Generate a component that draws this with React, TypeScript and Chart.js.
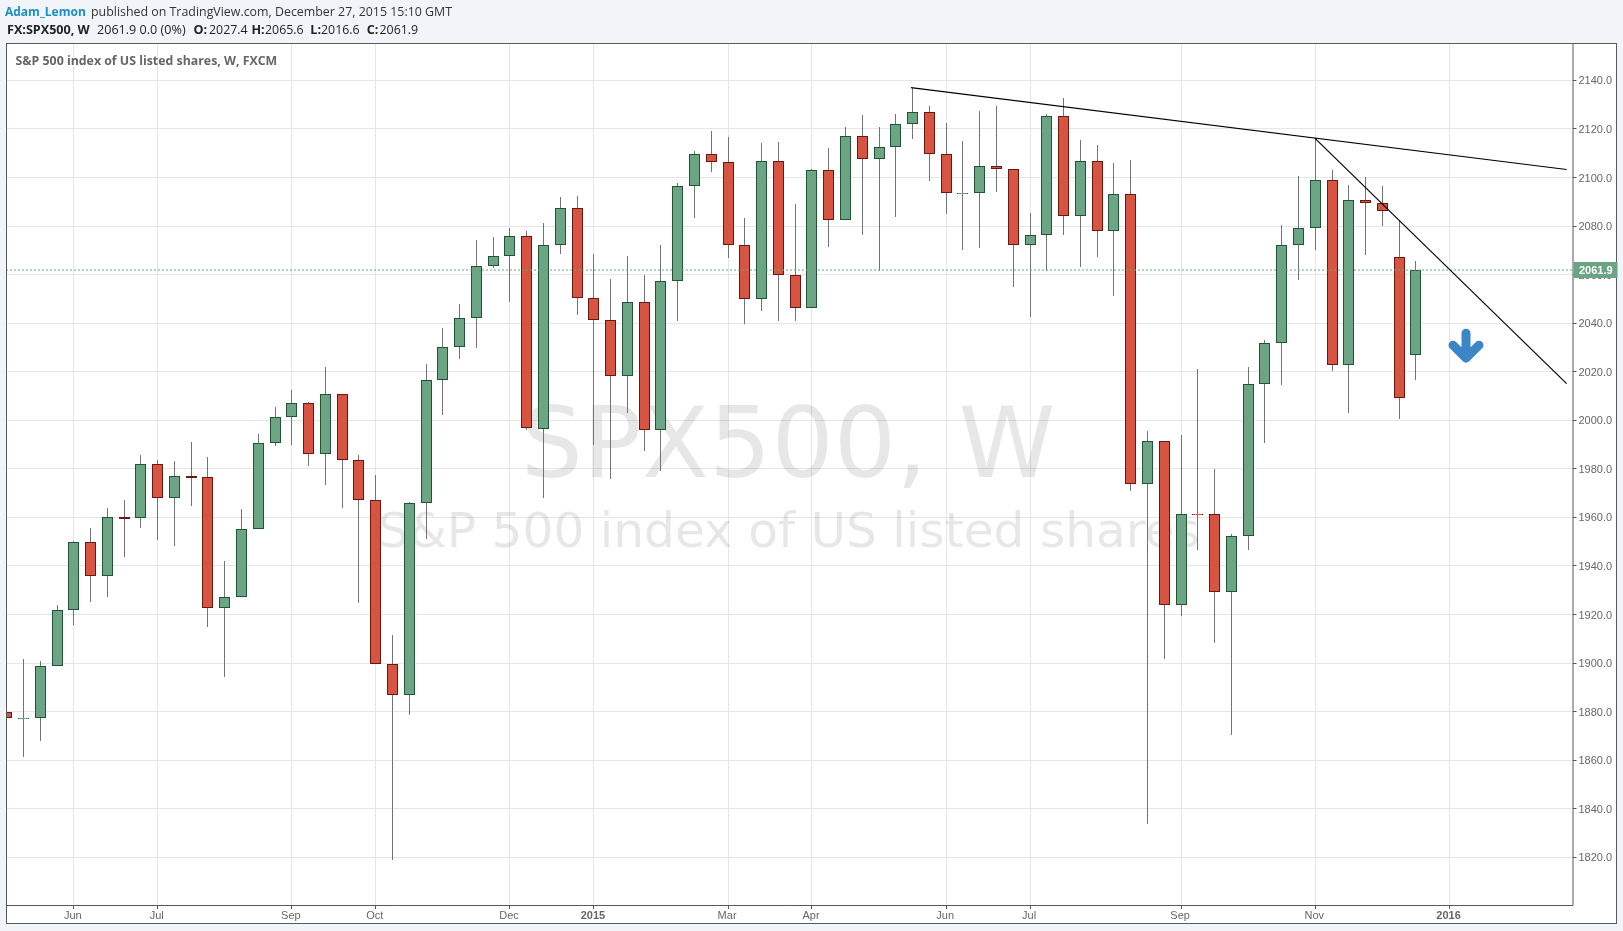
import React, { useEffect, useRef } from "react";
import { Chart, registerables } from "chart.js";

Chart.register(...registerables);

const opens = [1880,1877.3,1877.2,1898.6,1921.7,1949.7,1936,1960.2,1959.6,1981.9,1967.9,1977,1976.5,1922.5,1927.1,1955.1,1990.5,2001.2,2007,1986,2010.7,1983.5,1967,1899.6,1886.8,1965.8,2016.5,2030,2042.3,2063.7,2067.8,2076,1996.4,2072,2087.6,2050.5,2041.5,2018.4,2048.9,1996.2,2057.5,2096.7,2109.5,2106.2,2072,2050.1,2106.6,2060,2046.4,2102.9,2082.3,2117.3,2107.8,2112.7,2122.2,2126.8,2109.5,2093.8,2093.8,2104.9,2103.3,2072,2076.5,2125.5,2084.3,2107,2078.1,2093.4,1973.9,1991.6,1924,1961.5,1961.5,1929.3,1952.3,2015.1,2032,2072,2079.4,2099.1,2022.9,2090.9,2089.7,2067.4,2026.7];
const highs = [1880,1901.8,1901,1923.9,1950.3,1955.5,1963.9,1967.2,1985.7,1983.7,1983.2,1991.1,1984.9,1942,1963.5,1994.4,2005.5,2012.5,2007.5,2022,2010.7,1985.7,1977.5,1911.5,1966.2,2023.2,2038,2047.8,2074.1,2075.4,2079,2077.9,2081.4,2091.9,2092.3,2068.4,2058,2067.6,2060,2072,2097.6,2110.8,2119,2116.6,2083.5,2114.1,2114.5,2089,2103.4,2112,2120.7,2125.7,2120.7,2126,2137,2129.4,2122.4,2115,2127.3,2129.4,2103.3,2085.5,2126,2132.7,2115.4,2113.3,2105.9,2107.1,1995.5,1991.6,1993.8,2021,1979.8,1953,2021.8,2032.9,2080.3,2100.5,2116.2,2103,2096.8,2100.1,2096.4,2082,2065.6];
const lows = [1877.2,1861.5,1867.7,1898.6,1915.8,1925.3,1927.3,1943.8,1955.8,1950.8,1948.4,1964.8,1915,1894.1,1927.1,1955.1,1989.6,1990,1981.3,1973.5,1964,1924.9,1899.6,1818.7,1878.8,1951.2,2002,2025.4,2029.9,2062.7,2048.7,1996,1968,2068.5,2043.4,1989.8,1975.8,2003,1987.4,1979.1,2040.9,2083.4,2102.3,2066.9,2039.7,2045,2040.9,2040.9,2046.4,2071.4,2082.3,2076.3,2061.6,2083.8,2115.9,2098.6,2085,2070.2,2071,2094,2054.9,2042.6,2061.6,2076.3,2063.2,2067.3,2051.2,1970.9,1833.7,1901.6,1919.4,1946.6,1908.2,1870.4,1946.6,1990.7,2014.5,2057.8,2070,2020.3,2003,2068,2079.9,2000.4,2016.6];
const closes = [1877.2,1877.3,1898.8,1921.7,1949.7,1936,1960,1959.4,1981.9,1967.9,1976.9,1976.2,1922.5,1927.1,1955.1,1990.5,2001.2,2007,1986,2010.7,1983.5,1967,1899.6,1886.8,1965.8,2016.5,2030,2042.3,2063.7,2067.8,2076,1996.7,2072,2087.6,2050.5,2041.5,2018.4,2048.9,1996.2,2057.5,2096.7,2109.5,2106.2,2072,2050.1,2106.6,2060,2046.4,2102.9,2082.3,2117.3,2107.8,2112.7,2122.2,2126.8,2109.5,2093.8,2093.8,2104.9,2103.3,2072,2076.5,2125.5,2084.3,2107,2078.1,2093.4,1973.9,1991.6,1924,1961.5,1961.5,1929.3,1952.5,2015.1,2032,2072,2079.4,2099.1,2022.9,2090.9,2089.5,2086.2,2009.2,2061.9];
const flatDownIndexes = [71];

const priceTicks = [1820,1840,1860,1880,1900,1920,1940,1960,1980,2000,2020,2040,2060,2080,2100,2120,2140];
const timeTickIndexes = [4,9,17,22,30,35,43,48,56,61,70,78,86];
const timeTickLabels = ["Jun","Jul","Sep","Oct","Dec","2015","Mar","Apr","Jun","Jul","Sep","Nov","2016"];
const boldTimeLabels = ["2015","2016"];

const lastPrice = 2061.9;
const resistanceLine = [{ x: 53.9, y: 2137 }, { x: 92.98, y: 2103.3 }];
const fallLine = [{ x: 77.97, y: 2116.2 }, { x: 92.98, y: 2015.1 }];
const arrowAt = { x: 87, top: 2035.9, tip: 2025.6 };

const xMin = -0.04;
const xMax = 93.33;
const yMin = 1800.35;
const yMax = 2155.4;

const UP = "#6ba583";
const UP_EDGE = "#225437";
const DOWN = "#d75442";
const DOWN_EDGE = "#6b1813";
const WICK = "#737375";

const crispPlugin = {
  id: "crisp",
  afterDatasetsUpdate(chart: any) {
    chart.data.datasets.forEach((ds: any, idx: number) => {
      if (ds.type === "line") return;
      chart.getDatasetMeta(idx).data.forEach((el: any) => {
        el.x = Math.floor(el.x) + 0.5;
        el.y = Math.round(el.y);
        el.base = Math.round(el.base);
        if (el.base - el.y < 1) el.base = el.y + 1;
      });
    });
  },
};

const backdropPlugin = {
  id: "backdrop",
  beforeDraw(chart: any) {
    const { ctx } = chart;
    ctx.save();
    ctx.fillStyle = "#f1f5f9";
    ctx.fillRect(0, 0, chart.width, chart.height);
    ctx.fillStyle = "#ffffff";
    ctx.fillRect(6, 43, 1611, 881);
    ctx.restore();
  },
  beforeDatasetsDraw(chart: any) {
    const { ctx } = chart;
    ctx.save();
    ctx.fillStyle = "rgba(0,0,0,0.095)";
    ctx.textAlign = "center";
    ctx.textBaseline = "alphabetic";
    ctx.font = "98px 'DejaVu Sans'";
    ctx.fillText("SPX500, W", 788, 477);
    ctx.font = "48.6px 'DejaVu Sans'";
    ctx.fillText("S&P 500 index of US listed shares", 789, 547);
    ctx.restore();
  },
  afterDatasetsDraw(chart: any) {
    const { ctx, scales } = chart;
    const cx = Math.round(scales.x.getPixelForValue(arrowAt.x));
    const top = scales.y.getPixelForValue(arrowAt.top);
    const tip = scales.y.getPixelForValue(arrowAt.tip);
    ctx.save();
    ctx.strokeStyle = "#3d85c6";
    ctx.lineWidth = 9;
    ctx.lineCap = "round";
    ctx.lineJoin = "round";
    ctx.beginPath();
    ctx.moveTo(cx, top);
    ctx.lineTo(cx, tip);
    ctx.moveTo(cx - 13, tip - 13);
    ctx.lineTo(cx, tip);
    ctx.lineTo(cx + 13, tip - 13);
    ctx.stroke();
    ctx.restore();
  },
  afterDraw(chart: any) {
    const { ctx, scales, chartArea: a } = chart;
    ctx.save();
    ctx.strokeStyle = "#555a5e";
    ctx.lineWidth = 1;
    ctx.strokeRect(6.5, 43.5, 1610, 880);
    ctx.beginPath();
    ctx.moveTo(a.right + 0.5, 43);
    ctx.lineTo(a.right + 0.5, 905.5);
    ctx.moveTo(6, 905.5);
    ctx.lineTo(a.right + 0.5, 905.5);
    ctx.stroke();

    const py = Math.round(scales.y.getPixelForValue(lastPrice));
    ctx.fillStyle = UP;
    ctx.fillRect(a.right + 1, py - 8, 44, 16);
    ctx.fillStyle = "#ffffff";
    ctx.font = "bold 11px 'Liberation Sans'";
    ctx.textBaseline = "middle";
    ctx.textAlign = "left";
    ctx.fillText(lastPrice.toFixed(1), 1579, py + 1);

    ctx.textBaseline = "alphabetic";
    const run = (t: string, x: number, y: number, font: string, col: string) => {
      ctx.font = font;
      ctx.fillStyle = col;
      ctx.fillText(t, x, y);
    };
    const reg = "12.4px 'Open Sans'";
    const bold = "bold 12.6px 'Open Sans'";
    run("Adam_Lemon", 5, 16, "bold 12px 'Open Sans'", "#1a8fc4");
    run("published on TradingView.com, December 27, 2015 15:10 GMT", 91, 16, reg, "#333333");
    run("FX:SPX500, W", 7, 34, bold, "#222222");
    run("2061.9 0.0 (0%)", 97, 34, "12.6px 'Open Sans'", "#222222");
    run("O:", 193.5, 34, bold, "#222222");
    run("2027.4", 209, 34, reg, "#222222");
    run("H:", 251.4, 34, bold, "#222222");
    run("2065.6", 265, 34, reg, "#222222");
    run("L:", 310.3, 34, bold, "#222222");
    run("2016.6", 321, 34, reg, "#222222");
    run("C:", 366.8, 34, bold, "#222222");
    run("2061.9", 379.5, 34, reg, "#222222");
    run("S&P 500 index of US listed shares, W, FXCM", 15.5, 65, "bold 12.35px 'Open Sans'", "#666666");
    ctx.restore();
  },
};

export default function App() {
  const ref = useRef<HTMLCanvasElement>(null);
  useEffect(() => {
    document.body.style.margin = "0";
    const idx = opens.map((_, i) => i);
    const isFlat = (i: number) => opens[i] === closes[i];
    const isUp = (i: number) => closes[i] > opens[i] || (isFlat(i) && !flatDownIndexes.includes(i));
    const bodies = idx.filter((i) => !isFlat(i));
    const flats = idx.filter(isFlat);
    const chart = new Chart(ref.current as HTMLCanvasElement, {
      type: "bar",
      data: {
        datasets: [
          {
            type: "line",
            label: "Resistance",
            data: resistanceLine,
            borderColor: "#000000",
            borderWidth: 1.2,
            pointRadius: 0,
            order: 0,
          },
          {
            type: "line",
            label: "Fall",
            data: fallLine,
            borderColor: "#000000",
            borderWidth: 1.2,
            pointRadius: 0,
            order: 0,
          },
          {
            type: "line",
            label: "Last price",
            data: [{ x: xMin, y: lastPrice }, { x: xMax, y: lastPrice }],
            borderColor: UP,
            borderWidth: 1,
            borderDash: [2, 2],
            pointRadius: 0,
            order: 1,
          },
          {
            label: "Flat bodies",
            data: flats.map((i) => ({ x: i, y: [opens[i], closes[i]] })),
            backgroundColor: flats.map((i) => (isUp(i) ? UP : DOWN)),
            barThickness: 9,
            borderWidth: 0,
            inflateAmount: 0,
            grouped: false,
            order: 2,
          },
          {
            label: "Flat ends",
            data: flats.map((i) => ({ x: i, y: [opens[i], closes[i]] })),
            backgroundColor: flats.map((i) => (isUp(i) ? UP_EDGE : DOWN_EDGE)),
            barThickness: 11,
            borderWidth: 0,
            inflateAmount: 0,
            grouped: false,
            order: 3,
          },
          {
            label: "Bodies",
            data: bodies.map((i) => ({ x: i, y: [opens[i], closes[i]] })),
            backgroundColor: bodies.map((i) => (isUp(i) ? UP : DOWN)),
            borderColor: bodies.map((i) => (isUp(i) ? UP_EDGE : DOWN_EDGE)),
            borderWidth: 1,
            borderSkipped: false,
            inflateAmount: 0,
            barThickness: 11,
            grouped: false,
            order: 4,
          },
          {
            label: "Wicks",
            data: idx.map((i) => ({ x: i, y: [lows[i], highs[i]] })),
            backgroundColor: WICK,
            borderWidth: 0,
            inflateAmount: 0,
            barThickness: 1,
            grouped: false,
            order: 5,
          },
        ],
      } as any,
      options: {
        responsive: false,
        animation: false,
        layout: { padding: { left: 6, top: 43, right: 6, bottom: 7 } },
        plugins: { legend: { display: false }, title: { display: false }, tooltip: { enabled: false } },
        scales: {
          x: {
            type: "linear",
            min: xMin,
            max: xMax,
            offset: false,
            afterBuildTicks: (axis: any) => {
              axis.ticks = timeTickIndexes.map((value) => ({ value }));
            },
            afterFit: (s: any) => {
              s.height = 19;
            },
            grid: { offset: false, color: "#e6e6e6", lineWidth: 1, tickLength: 4, tickColor: "#555a5e" },
            border: { display: false },
            ticks: {
              autoSkip: false,
              maxRotation: 0,
              padding: 0,
              labelOffset: -1,
              color: "#666666",
              callback: (v: any) => timeTickLabels[timeTickIndexes.indexOf(v)],
              font: (c: any) => {
                const label = timeTickLabels[timeTickIndexes.indexOf(c.tick?.value)];
                return {
                  family: "'Liberation Sans'",
                  size: 11,
                  weight: boldTimeLabels.includes(label) ? "bold" : "normal",
                };
              },
            },
          },
          y: {
            type: "linear",
            position: "right",
            min: yMin,
            max: yMax,
            afterBuildTicks: (axis: any) => {
              axis.ticks = priceTicks.map((value) => ({ value }));
            },
            afterFit: (s: any) => {
              s.width = 44.5;
            },
            grid: { color: "#e6e6e6", lineWidth: 1, tickLength: 4, tickColor: "#555a5e" },
            border: { display: false },
            ticks: {
              padding: 2,
              labelOffset: 1,
              color: "#666666",
              font: { family: "'Liberation Sans'", size: 11 },
              callback: (v: any) => Number(v).toFixed(1),
            },
          },
        },
      },
      plugins: [crispPlugin, backdropPlugin],
    } as any);
    return () => chart.destroy();
  }, []);
  return <canvas ref={ref} width={1623} height={931} style={{ display: "block" }} />;
}
